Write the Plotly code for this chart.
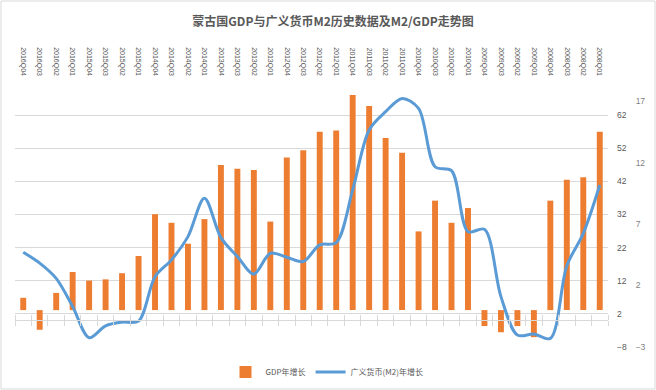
import plotly.graph_objects as go

categories = ["2016Q04", "2016Q03", "2016Q02", "2016Q01",
              "2015Q04", "2015Q03", "2015Q02", "2015Q01",
              "2014Q04", "2014Q03", "2014Q02", "2014Q01",
              "2013Q04", "2013Q03", "2013Q02", "2013Q01",
              "2012Q04", "2012Q03", "2012Q02", "2012Q01",
              "2011Q04", "2011Q03", "2011Q02", "2011Q01",
              "2010Q04", "2010Q03", "2010Q02", "2010Q01",
              "2009Q04", "2009Q03", "2009Q02", "2009Q01",
              "2008Q04", "2008Q03", "2008Q02", "2008Q01"]

gdp_growth = [1.0, -1.6, 1.4, 3.1, 2.4, 2.5, 3.0, 4.4,
              7.8, 7.1, 5.4, 7.4, 11.8, 11.5, 11.4, 7.2,
              12.4, 13.0, 14.5, 14.6, 17.5, 16.6, 14.0, 12.8,
              6.4, 8.9, 7.1, 8.3, -1.3, -1.8, -1.3, -2.2,
              8.9, 10.6, 10.8, 14.5]

m2_growth = [20.6, 17.3, 12.7, 4.2, -5.2, -1.6, -0.5, -0.2,
             13.2, 18.3, 25.3, 36.9, 25.0, 19.3, 14.0, 20.3,
             19.1, 17.8, 22.8, 23.5, 39.4, 57.5, 63.0, 67.0,
             64.0, 46.4, 45.2, 26.8, 27.5, 7.2, -4.4, -4.1,
             -5.4, 16.5, 26.3, 40.9]

m2_ticks = [-8, 2, 12, 22, 32, 42, 52, 62]
gdp_ticks = [-3, 2, 7, 12, 17]

W, H = 656, 390
ml, mr, mt, mb = 15, 10, 88, 43
pw = W - ml - mr
ph = H - mt - mb
xdom = 593 / pw

m2_range = [-8, 70.15]
gdp_range = [-3, 18.06]
p0 = (0 - m2_range[0]) / (m2_range[1] - m2_range[0])

grey = "#595959"
grid = "#D9D9D9"

fig = go.Figure()
fig.add_trace(go.Bar(
    x=categories, y=gdp_growth, name="GDP年增长",
    marker=dict(color="#ED7D31", line=dict(width=0)),
    width=0.36, xaxis="x", yaxis="y"))
fig.add_trace(go.Scatter(
    x=categories, y=m2_growth, name="广义货币(M2)年增长",
    mode="lines", line=dict(color="#5B9BD5", width=3, shape="spline", smoothing=0.9),
    xaxis="x2", yaxis="y2"))
fig.add_trace(go.Scatter(
    x=categories, y=[None] * len(categories), showlegend=False,
    hoverinfo="skip", mode="lines", xaxis="x3", yaxis="y2"))

fig.update_layout(
    template="none",
    width=W, height=H,
    margin=dict(l=ml, r=mr, t=mt, b=mb, autoexpand=False),
    paper_bgcolor="white", plot_bgcolor="white",
    font=dict(family="Liberation Sans, Noto Sans CJK SC", color=grey, size=9),
    title=dict(text="<b>蒙古国GDP与广义货币M2历史数据及M2/GDP走势图</b>",
               x=(333 - ml) / pw, xanchor="center", xref="paper",
               y=1 - 22 / H, yanchor="middle",
               font=dict(family="Noto Sans CJK SC", size=12, color=grey)),
    bargap=0.6,
    xaxis=dict(domain=[0, xdom], type="category", anchor="free", position=p0,
               side="bottom", range=[-0.5, 35.5], showgrid=False, automargin=False,
               showline=True, linecolor=grid, linewidth=1,
               ticks="outside", ticklen=5, tickcolor=grid, tickson="boundaries",
               showticklabels=False, zeroline=False),
    xaxis3=dict(domain=[0, xdom], type="category", overlaying="x", anchor="free",
                position=p0, side="top", range=[-0.5, 35.5], showgrid=False,
                automargin=False,
                showline=False, ticks="outside", ticklen=5, tickcolor=grid,
                tickson="boundaries", showticklabels=False, zeroline=False),
    xaxis2=dict(domain=[0, xdom], type="category", overlaying="x", anchor="y2",
                side="top", range=[-0.5, 35.5], showgrid=False, showline=False,
                automargin=False, ticks="", tickangle=90, ticklabelstandoff=10,
                tickfont=dict(family="Liberation Sans", size=7, color=grey),
                zeroline=False),
    yaxis=dict(range=gdp_range, tickvals=gdp_ticks, side="right",
               anchor="free", position=0.982, showgrid=False, zeroline=False,
               showline=False, ticks="", automargin=False,
               tickfont=dict(size=8.5, color="#7f7f7f")),
    yaxis2=dict(range=m2_range, tickvals=m2_ticks, side="right",
                overlaying="y", anchor="x", showgrid=True, gridcolor=grid,
                gridwidth=1, zeroline=False, showline=False, ticks="",
                ticklabelstandoff=8, automargin=False,
                tickfont=dict(size=8.5, color=grey)),
    legend=dict(orientation="h", x=(327 - ml) / pw, xanchor="center",
                y=(H - mb - 372) / ph, yanchor="middle",
                font=dict(family="Noto Sans CJK SC", size=8, color=grey),
                bgcolor="rgba(0,0,0,0)", itemwidth=30),
    showlegend=True,
    shapes=[dict(type="rect", xref="paper", yref="paper",
                 x0=(1 - ml) / pw, x1=(655 - ml) / pw,
                 y0=(H - mb - 389) / ph, y1=(H - mb - 1) / ph,
                 line=dict(color=grid, width=1), layer="below")],
)

fig.write_html("out.html",
               config={"displayModeBar": False},
               post_script="document.body.style.margin='0';document.body.style.overflow='hidden';")
